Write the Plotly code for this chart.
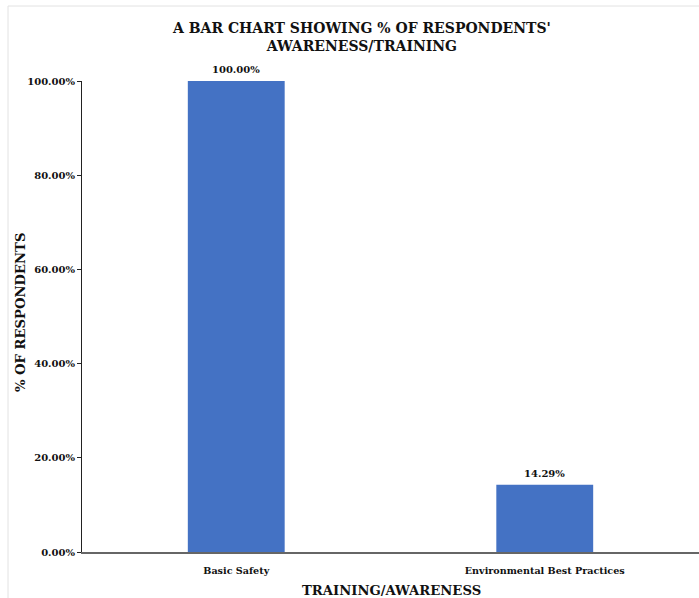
import plotly.graph_objects as go

categories = ["Basic Safety", "Environmental Best Practices"]
percent_values = [100.00, 14.29]
y_tick_values = [0, 20, 40, 60, 80, 100]
y_tick_labels = ["0.00%", "20.00%", "40.00%", "60.00%", "80.00%", "100.00%"]

W, H = 699, 598
L, R, T, B = 82, 0, 81, 46
SERIF = "DejaVu Serif"
INK = "#111111"

fig = go.Figure(
    go.Bar(
        x=categories,
        y=percent_values,
        width=0.314,
        marker=dict(color="#4472C4", line=dict(width=0)),
    )
)

# pixel -> paper helpers for annotations / frame
def px_x(px):
    return (px - L) / (W - L - R)

def px_y(py):
    return (H - B - py) / (H - T - B)

# value labels above each bar
value_labels = [
    dict(
        text=f"<b>{v:.2f}%</b>", x=c, y=v, xref="x", yref="y",
        xanchor="center", yanchor="bottom", yshift=4, showarrow=False,
        font=dict(family=SERIF, size=10, color=INK),
    )
    for c, v in zip(categories, percent_values)
]

fig.update_layout(
    width=W,
    height=H,
    margin=dict(l=L, r=R, t=T, b=B, pad=0),
    paper_bgcolor="white",
    plot_bgcolor="white",
    showlegend=False,
    font=dict(family=SERIF, color=INK),
    xaxis=dict(
        range=[-0.5, 1.5],
        showline=True,
        linecolor="#666666",
        linewidth=2,
        ticks="",
        showgrid=False,
        tickfont=dict(family=SERIF, size=9.6, color=INK, weight="bold"),
        ticklabelstandoff=8,
    ),
    yaxis=dict(
        range=[0, 100],
        tickvals=y_tick_values,
        ticktext=y_tick_labels,
        showline=True,
        linecolor="#222222",
        linewidth=1,
        ticks="outside",
        ticklen=4,
        tickcolor="#222222",
        showgrid=False,
        zeroline=False,
        tickfont=dict(family=SERIF, size=10, color=INK, weight="bold"),
    ),
    shapes=[
        dict(
            type="rect", xref="paper", yref="paper",
            x0=px_x(8), x1=px_x(W + 10), y0=px_y(6), y1=px_y(H + 10),
            line=dict(color="#e2e2e2", width=1), fillcolor="rgba(0,0,0,0)",
            layer="below",
        )
    ],
    annotations=value_labels + [
        dict(
            text="<b>A BAR CHART SHOWING % OF RESPONDENTS'<br>AWARENESS/TRAINING</b>",
            xref="paper", yref="paper", x=px_x(361), y=px_y(37),
            xanchor="center", yanchor="middle", showarrow=False,
            font=dict(family=SERIF, size=14, color=INK),
        ),
        dict(
            text="<b>TRAINING/AWARENESS</b>",
            xref="paper", yref="paper", x=px_x(391), y=px_y(590),
            xanchor="center", yanchor="middle", showarrow=False,
            font=dict(family=SERIF, size=13.2, color=INK),
        ),
        dict(
            text="<b>% OF RESPONDENTS</b>",
            xref="paper", yref="paper", x=px_x(20), y=px_y(313),
            xanchor="center", yanchor="middle", showarrow=False, textangle=-90,
            font=dict(family=SERIF, size=13.2, color=INK),
        ),
    ],
)

fig.write_html("out.html")
